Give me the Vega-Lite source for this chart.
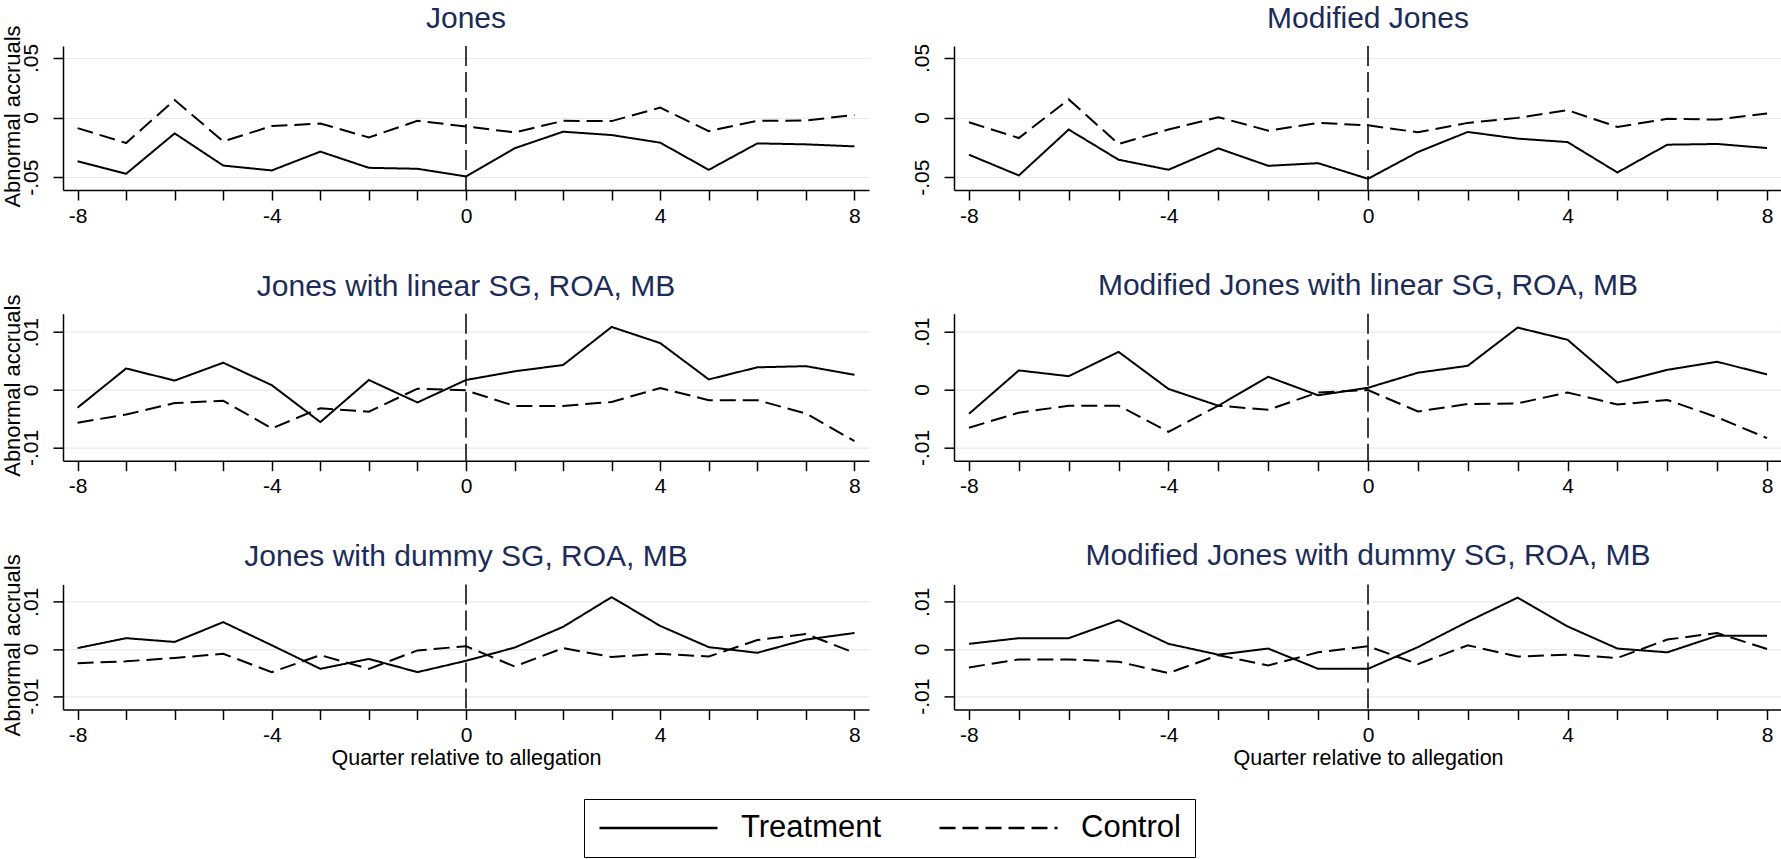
{
  "$schema": "https://vega.github.io/schema/vega-lite/v6.json",
  "padding": {"left": 1, "top": 4, "right": 0, "bottom": 0},
  "background": "white",
  "datasets": {
    "acc": [
      {"m":"J","q":-8,"Treatment":-0.0367,"Control":-0.0089},
      {"m":"J","q":-7,"Treatment":-0.0472,"Control":-0.0214},
      {"m":"J","q":-6,"Treatment":-0.0133,"Control":0.0147},
      {"m":"J","q":-5,"Treatment":-0.0403,"Control":-0.0200},
      {"m":"J","q":-4,"Treatment":-0.0444,"Control":-0.0072},
      {"m":"J","q":-3,"Treatment":-0.0286,"Control":-0.0050},
      {"m":"J","q":-2,"Treatment":-0.0422,"Control":-0.0167},
      {"m":"J","q":-1,"Treatment":-0.0430,"Control":-0.0028},
      {"m":"J","q":0,"Treatment":-0.0494,"Control":-0.0075},
      {"m":"J","q":1,"Treatment":-0.0258,"Control":-0.0125},
      {"m":"J","q":2,"Treatment":-0.0119,"Control":-0.0028},
      {"m":"J","q":3,"Treatment":-0.0147,"Control":-0.0030},
      {"m":"J","q":4,"Treatment":-0.0211,"Control":0.0083},
      {"m":"J","q":5,"Treatment":-0.0439,"Control":-0.0114},
      {"m":"J","q":6,"Treatment":-0.0217,"Control":-0.0028},
      {"m":"J","q":7,"Treatment":-0.0225,"Control":-0.0025},
      {"m":"J","q":8,"Treatment":-0.0242,"Control":0.0022},
      {"m":"MJ","q":-8,"Treatment":-0.0312,"Control":-0.0040},
      {"m":"MJ","q":-7,"Treatment":-0.0486,"Control":-0.0172},
      {"m":"MJ","q":-6,"Treatment":-0.0101,"Control":0.0152},
      {"m":"MJ","q":-5,"Treatment":-0.0354,"Control":-0.0222},
      {"m":"MJ","q":-4,"Treatment":-0.0438,"Control":-0.0101},
      {"m":"MJ","q":-3,"Treatment":-0.0259,"Control":0.0003},
      {"m":"MJ","q":-2,"Treatment":-0.0405,"Control":-0.0110},
      {"m":"MJ","q":-1,"Treatment":-0.0383,"Control":-0.0045},
      {"m":"MJ","q":0,"Treatment":-0.0514,"Control":-0.0065},
      {"m":"MJ","q":1,"Treatment":-0.0290,"Control":-0.0124},
      {"m":"MJ","q":2,"Treatment":-0.0121,"Control":-0.0045},
      {"m":"MJ","q":3,"Treatment":-0.0177,"Control":-0.0003},
      {"m":"MJ","q":4,"Treatment":-0.0206,"Control":0.0062},
      {"m":"MJ","q":5,"Treatment":-0.0461,"Control":-0.0079},
      {"m":"MJ","q":6,"Treatment":-0.0228,"Control":-0.0011},
      {"m":"MJ","q":7,"Treatment":-0.0222,"Control":-0.0017},
      {"m":"MJ","q":8,"Treatment":-0.0256,"Control":0.0034},
      {"m":"JL","q":-8,"Treatment":-0.0031,"Control":-0.0057},
      {"m":"JL","q":-7,"Treatment":0.0037,"Control":-0.0043},
      {"m":"JL","q":-6,"Treatment":0.0016,"Control":-0.0023},
      {"m":"JL","q":-5,"Treatment":0.0047,"Control":-0.0019},
      {"m":"JL","q":-4,"Treatment":0.0008,"Control":-0.0067},
      {"m":"JL","q":-3,"Treatment":-0.0056,"Control":-0.0032},
      {"m":"JL","q":-2,"Treatment":0.0017,"Control":-0.0038},
      {"m":"JL","q":-1,"Treatment":-0.0022,"Control":0.0002},
      {"m":"JL","q":0,"Treatment":0.0017,"Control":-0.0001},
      {"m":"JL","q":1,"Treatment":0.0032,"Control":-0.0028},
      {"m":"JL","q":2,"Treatment":0.0043,"Control":-0.0028},
      {"m":"JL","q":3,"Treatment":0.0109,"Control":-0.0021},
      {"m":"JL","q":4,"Treatment":0.0081,"Control":0.0003},
      {"m":"JL","q":5,"Treatment":0.0018,"Control":-0.0018},
      {"m":"JL","q":6,"Treatment":0.0039,"Control":-0.0018},
      {"m":"JL","q":7,"Treatment":0.0041,"Control":-0.0041},
      {"m":"JL","q":8,"Treatment":0.0026,"Control":-0.0089},
      {"m":"MJL","q":-8,"Treatment":-0.0042,"Control":-0.0066},
      {"m":"MJL","q":-7,"Treatment":0.0033,"Control":-0.0040},
      {"m":"MJL","q":-6,"Treatment":0.0023,"Control":-0.0028},
      {"m":"MJL","q":-5,"Treatment":0.0065,"Control":-0.0028},
      {"m":"MJL","q":-4,"Treatment":0.0001,"Control":-0.0073},
      {"m":"MJL","q":-3,"Treatment":-0.0028,"Control":-0.0028},
      {"m":"MJL","q":-2,"Treatment":0.0022,"Control":-0.0035},
      {"m":"MJL","q":-1,"Treatment":-0.0010,"Control":-0.0005},
      {"m":"MJL","q":0,"Treatment":0.0003,"Control":-0.0001},
      {"m":"MJL","q":1,"Treatment":0.0029,"Control":-0.0038},
      {"m":"MJL","q":2,"Treatment":0.0041,"Control":-0.0025},
      {"m":"MJL","q":3,"Treatment":0.0107,"Control":-0.0024},
      {"m":"MJL","q":4,"Treatment":0.0086,"Control":-0.0005},
      {"m":"MJL","q":5,"Treatment":0.0012,"Control":-0.0026},
      {"m":"MJL","q":6,"Treatment":0.0034,"Control":-0.0018},
      {"m":"MJL","q":7,"Treatment":0.0048,"Control":-0.0048},
      {"m":"MJL","q":8,"Treatment":0.0026,"Control":-0.0084},
      {"m":"JD","q":-8,"Treatment":0.0002,"Control":-0.0030},
      {"m":"JD","q":-7,"Treatment":0.0023,"Control":-0.0026},
      {"m":"JD","q":-6,"Treatment":0.0015,"Control":-0.0019},
      {"m":"JD","q":-5,"Treatment":0.0057,"Control":-0.0010},
      {"m":"JD","q":-4,"Treatment":0.0008,"Control":-0.0049},
      {"m":"JD","q":-3,"Treatment":-0.0042,"Control":-0.0013},
      {"m":"JD","q":-2,"Treatment":-0.0021,"Control":-0.0042},
      {"m":"JD","q":-1,"Treatment":-0.0049,"Control":-0.0003},
      {"m":"JD","q":0,"Treatment":-0.0025,"Control":0.0006},
      {"m":"JD","q":1,"Treatment":0.0003,"Control":-0.0037},
      {"m":"JD","q":2,"Treatment":0.0047,"Control":0.0002},
      {"m":"JD","q":3,"Treatment":0.0110,"Control":-0.0017},
      {"m":"JD","q":4,"Treatment":0.0049,"Control":-0.0010},
      {"m":"JD","q":5,"Treatment":0.0004,"Control":-0.0016},
      {"m":"JD","q":6,"Treatment":-0.0008,"Control":0.0019},
      {"m":"JD","q":7,"Treatment":0.0020,"Control":0.0032},
      {"m":"JD","q":8,"Treatment":0.0034,"Control":-0.0008},
      {"m":"MJD","q":-8,"Treatment":0.0011,"Control":-0.0039},
      {"m":"MJD","q":-7,"Treatment":0.0023,"Control":-0.0022},
      {"m":"MJD","q":-6,"Treatment":0.0023,"Control":-0.0022},
      {"m":"MJD","q":-5,"Treatment":0.0061,"Control":-0.0027},
      {"m":"MJD","q":-4,"Treatment":0.0011,"Control":-0.0051},
      {"m":"MJD","q":-3,"Treatment":-0.0012,"Control":-0.0013},
      {"m":"MJD","q":-2,"Treatment":0.0001,"Control":-0.0035},
      {"m":"MJD","q":-1,"Treatment":-0.0042,"Control":-0.0007},
      {"m":"MJD","q":0,"Treatment":-0.0042,"Control":0.0006},
      {"m":"MJD","q":1,"Treatment":0.0004,"Control":-0.0032},
      {"m":"MJD","q":2,"Treatment":0.0058,"Control":0.0008},
      {"m":"MJD","q":3,"Treatment":0.0109,"Control":-0.0016},
      {"m":"MJD","q":4,"Treatment":0.0048,"Control":-0.0012},
      {"m":"MJD","q":5,"Treatment":0.0001,"Control":-0.0019},
      {"m":"MJD","q":6,"Treatment":-0.0007,"Control":0.0020},
      {"m":"MJD","q":7,"Treatment":0.0028,"Control":0.0034},
      {"m":"MJD","q":8,"Treatment":0.0028,"Control":0.0000}
    ]
  },
  "columns": 2,
  "align": "each",
  "bounds": "flush",
  "spacing": {"row": 123.7, "column": 85},
  "concat": [
    {
      "width": 806, "height": 144,
      "title": {"text": "Jones", "offset": -9.1},
      "layer": [
        {"data": {"values": [{}]}, "mark": {"type": "rule", "strokeDash": [20, 6], "strokeWidth": 1.5, "color": "black"}, "encoding": {"x": {"datum": 0}}},
        {"data": {"name": "acc"},
         "transform": [{"filter": "datum.m == 'J'"}, {"fold": ["Treatment", "Control"], "as": ["series", "value"]}],
         "mark": {"type": "line", "color": "black", "strokeWidth": 2},
         "encoding": {
           "x": {"field": "q", "type": "quantitative", "scale": {"domain": [-8.3, 8.3], "nice": false, "zero": false},
                 "axis": {"title": null, "values": [-8,-7,-6,-5,-4,-3,-2,-1,0,1,2,3,4,5,6,7,8], "labelExpr": "datum.value % 4 == 0 ? (datum.value < 0 ? '-' + abs(datum.value) : '' + datum.value) : ''"}},
           "y": {"field": "value", "type": "quantitative", "scale": {"domain": [-0.0608, 0.06], "nice": false, "zero": false},
                 "axis": {"title": "Abnormal accruals", "titleX": -43.7, "titleY": 70, "titleAngle": -90, "titleAlign": "center", "titleBaseline": "alphabetic",
                          "labelAngle": -90, "labelAlign": "center", "labelBaseline": "top", "labelPadding": 32.6,
                          "values": [-0.05, 0, 0.05], "grid": true, "labelExpr": "datum.value == 0 ? '0' : (datum.value < 0 ? '-' : '') + replace(format(abs(datum.value), '.2f'), '0.', '.')"}},
           "strokeDash": {"field": "series", "type": "nominal", "scale": {"domain": ["Treatment", "Control"], "range": [[1, 0], [16, 7]]},
                 "legend": {"orient": "none", "legendX": 521, "legendY": 753, "direction": "horizontal", "title": null, "symbolType": "stroke", "symbolSize": 13924, "symbolStrokeWidth": 2.5, "symbolStrokeColor": "black", "clipHeight": 30, "labelFontSize": 31, "labelColor": "black", "labelOffset": 22, "columnPadding": 56, "padding": 14, "strokeColor": "black", "fillColor": "white", "labelLimit": 400}}
         }}
      ]
    },
    {
      "width": 828, "height": 144,
      "title": {"text": "Modified Jones", "offset": 9.3},
      "layer": [
        {"data": {"values": [{}]}, "mark": {"type": "rule", "strokeDash": [20, 6], "strokeWidth": 1.5, "color": "black"}, "encoding": {"x": {"datum": 0}}},
        {"data": {"name": "acc"},
         "transform": [{"filter": "datum.m == 'MJ'"}, {"fold": ["Treatment", "Control"], "as": ["series", "value"]}],
         "mark": {"type": "line", "color": "black", "strokeWidth": 2},
         "encoding": {
           "x": {"field": "q", "type": "quantitative", "scale": {"domain": [-8.3, 8.3], "nice": false, "zero": false},
                 "axis": {"title": null, "values": [-8,-7,-6,-5,-4,-3,-2,-1,0,1,2,3,4,5,6,7,8], "labelExpr": "datum.value % 4 == 0 ? (datum.value < 0 ? '-' + abs(datum.value) : '' + datum.value) : ''"}},
           "y": {"field": "value", "type": "quantitative", "scale": {"domain": [-0.0608, 0.06], "nice": false, "zero": false},
                 "axis": {"title": null, "labelAngle": -90, "labelAlign": "center", "labelBaseline": "top", "labelPadding": 32.6,
                          "values": [-0.05, 0, 0.05], "grid": true, "labelExpr": "datum.value == 0 ? '0' : (datum.value < 0 ? '-' : '') + replace(format(abs(datum.value), '.2f'), '0.', '.')"}},
           "strokeDash": {"field": "series", "type": "nominal", "scale": {"domain": ["Treatment", "Control"], "range": [[1, 0], [16, 7]]},
                 "legend": {"orient": "none", "legendX": 521, "legendY": 753, "direction": "horizontal", "title": null, "symbolType": "stroke", "symbolSize": 13924, "symbolStrokeWidth": 2.5, "symbolStrokeColor": "black", "clipHeight": 30, "labelFontSize": 31, "labelColor": "black", "labelOffset": 22, "columnPadding": 56, "padding": 14, "strokeColor": "black", "fillColor": "white", "labelLimit": 400}}
         }}
      ]
    },
    {
      "width": 806, "height": 147,
      "title": {"text": "Jones with linear SG, ROA, MB", "offset": -7.6},
      "layer": [
        {"data": {"values": [{}]}, "mark": {"type": "rule", "strokeDash": [20, 6], "strokeWidth": 1.5, "color": "black"}, "encoding": {"x": {"datum": 0}}},
        {"data": {"name": "acc"},
         "transform": [{"filter": "datum.m == 'JL'"}, {"fold": ["Treatment", "Control"], "as": ["series", "value"]}],
         "mark": {"type": "line", "color": "black", "strokeWidth": 2},
         "encoding": {
           "x": {"field": "q", "type": "quantitative", "scale": {"domain": [-8.3, 8.3], "nice": false, "zero": false},
                 "axis": {"title": null, "values": [-8,-7,-6,-5,-4,-3,-2,-1,0,1,2,3,4,5,6,7,8], "labelExpr": "datum.value % 4 == 0 ? (datum.value < 0 ? '-' + abs(datum.value) : '' + datum.value) : ''"}},
           "y": {"field": "value", "type": "quantitative", "scale": {"domain": [-0.0123, 0.0132], "nice": false, "zero": false},
                 "axis": {"title": "Abnormal accruals", "titleX": -43.7, "titleY": 71.5, "titleAngle": -90, "titleAlign": "center", "titleBaseline": "alphabetic",
                          "labelAngle": -90, "labelAlign": "center", "labelBaseline": "top", "labelPadding": 32.6,
                          "values": [-0.01, 0, 0.01], "grid": true, "labelExpr": "datum.value == 0 ? '0' : (datum.value < 0 ? '-' : '') + replace(format(abs(datum.value), '.2f'), '0.', '.')"}},
           "strokeDash": {"field": "series", "type": "nominal", "scale": {"domain": ["Treatment", "Control"], "range": [[1, 0], [16, 7]]},
                 "legend": {"orient": "none", "legendX": 521, "legendY": 753, "direction": "horizontal", "title": null, "symbolType": "stroke", "symbolSize": 13924, "symbolStrokeWidth": 2.5, "symbolStrokeColor": "black", "clipHeight": 30, "labelFontSize": 31, "labelColor": "black", "labelOffset": 22, "columnPadding": 56, "padding": 14, "strokeColor": "black", "fillColor": "white", "labelLimit": 400}}
         }}
      ]
    },
    {
      "width": 828, "height": 147,
      "title": {"text": "Modified Jones with linear SG, ROA, MB", "offset": 12.3},
      "layer": [
        {"data": {"values": [{}]}, "mark": {"type": "rule", "strokeDash": [20, 6], "strokeWidth": 1.5, "color": "black"}, "encoding": {"x": {"datum": 0}}},
        {"data": {"name": "acc"},
         "transform": [{"filter": "datum.m == 'MJL'"}, {"fold": ["Treatment", "Control"], "as": ["series", "value"]}],
         "mark": {"type": "line", "color": "black", "strokeWidth": 2},
         "encoding": {
           "x": {"field": "q", "type": "quantitative", "scale": {"domain": [-8.3, 8.3], "nice": false, "zero": false},
                 "axis": {"title": null, "values": [-8,-7,-6,-5,-4,-3,-2,-1,0,1,2,3,4,5,6,7,8], "labelExpr": "datum.value % 4 == 0 ? (datum.value < 0 ? '-' + abs(datum.value) : '' + datum.value) : ''"}},
           "y": {"field": "value", "type": "quantitative", "scale": {"domain": [-0.0123, 0.0131], "nice": false, "zero": false},
                 "axis": {"title": null, "labelAngle": -90, "labelAlign": "center", "labelBaseline": "top", "labelPadding": 32.6,
                          "values": [-0.01, 0, 0.01], "grid": true, "labelExpr": "datum.value == 0 ? '0' : (datum.value < 0 ? '-' : '') + replace(format(abs(datum.value), '.2f'), '0.', '.')"}},
           "strokeDash": {"field": "series", "type": "nominal", "scale": {"domain": ["Treatment", "Control"], "range": [[1, 0], [16, 7]]},
                 "legend": {"orient": "none", "legendX": 521, "legendY": 753, "direction": "horizontal", "title": null, "symbolType": "stroke", "symbolSize": 13924, "symbolStrokeWidth": 2.5, "symbolStrokeColor": "black", "clipHeight": 30, "labelFontSize": 31, "labelColor": "black", "labelOffset": 22, "columnPadding": 56, "padding": 14, "strokeColor": "black", "fillColor": "white", "labelLimit": 400}}
         }}
      ]
    },
    {
      "width": 806, "height": 125,
      "title": {"text": "Jones with dummy SG, ROA, MB", "offset": -18.6},
      "layer": [
        {"data": {"values": [{}]}, "mark": {"type": "rule", "strokeDash": [20, 6], "strokeWidth": 1.5, "color": "black"}, "encoding": {"x": {"datum": 0}}},
        {"data": {"name": "acc"},
         "transform": [{"filter": "datum.m == 'JD'"}, {"fold": ["Treatment", "Control"], "as": ["series", "value"]}],
         "mark": {"type": "line", "color": "black", "strokeWidth": 2},
         "encoding": {
           "x": {"field": "q", "type": "quantitative", "scale": {"domain": [-8.3, 8.3], "nice": false, "zero": false},
                 "axis": {"title": "Quarter relative to allegation", "values": [-8,-7,-6,-5,-4,-3,-2,-1,0,1,2,3,4,5,6,7,8], "labelExpr": "datum.value % 4 == 0 ? (datum.value < 0 ? '-' + abs(datum.value) : '' + datum.value) : ''"}},
           "y": {"field": "value", "type": "quantitative", "scale": {"domain": [-0.0128, 0.0137], "nice": false, "zero": false},
                 "axis": {"title": "Abnormal accruals", "titleX": -43.7, "titleY": 60.5, "titleAngle": -90, "titleAlign": "center", "titleBaseline": "alphabetic",
                          "labelAngle": -90, "labelAlign": "center", "labelBaseline": "top", "labelPadding": 32.6,
                          "values": [-0.01, 0, 0.01], "grid": true, "labelExpr": "datum.value == 0 ? '0' : (datum.value < 0 ? '-' : '') + replace(format(abs(datum.value), '.2f'), '0.', '.')"}},
           "strokeDash": {"field": "series", "type": "nominal", "scale": {"domain": ["Treatment", "Control"], "range": [[1, 0], [16, 7]]},
                 "legend": {"orient": "none", "legendX": 521, "legendY": 753, "direction": "horizontal", "title": null, "symbolType": "stroke", "symbolSize": 13924, "symbolStrokeWidth": 2.5, "symbolStrokeColor": "black", "clipHeight": 30, "labelFontSize": 31, "labelColor": "black", "labelOffset": 22, "columnPadding": 56, "padding": 14, "strokeColor": "black", "fillColor": "white", "labelLimit": 400}}
         }}
      ]
    },
    {
      "width": 828, "height": 125,
      "title": {"text": "Modified Jones with dummy SG, ROA, MB", "offset": 12.3},
      "layer": [
        {"data": {"values": [{}]}, "mark": {"type": "rule", "strokeDash": [20, 6], "strokeWidth": 1.5, "color": "black"}, "encoding": {"x": {"datum": 0}}},
        {"data": {"name": "acc"},
         "transform": [{"filter": "datum.m == 'MJD'"}, {"fold": ["Treatment", "Control"], "as": ["series", "value"]}],
         "mark": {"type": "line", "color": "black", "strokeWidth": 2},
         "encoding": {
           "x": {"field": "q", "type": "quantitative", "scale": {"domain": [-8.3, 8.3], "nice": false, "zero": false},
                 "axis": {"title": "Quarter relative to allegation", "values": [-8,-7,-6,-5,-4,-3,-2,-1,0,1,2,3,4,5,6,7,8], "labelExpr": "datum.value % 4 == 0 ? (datum.value < 0 ? '-' + abs(datum.value) : '' + datum.value) : ''"}},
           "y": {"field": "value", "type": "quantitative", "scale": {"domain": [-0.0128, 0.0137], "nice": false, "zero": false},
                 "axis": {"title": null, "labelAngle": -90, "labelAlign": "center", "labelBaseline": "top", "labelPadding": 32.6,
                          "values": [-0.01, 0, 0.01], "grid": true, "labelExpr": "datum.value == 0 ? '0' : (datum.value < 0 ? '-' : '') + replace(format(abs(datum.value), '.2f'), '0.', '.')"}},
           "strokeDash": {"field": "series", "type": "nominal", "scale": {"domain": ["Treatment", "Control"], "range": [[1, 0], [16, 7]]},
                 "legend": {"orient": "none", "legendX": 521, "legendY": 753, "direction": "horizontal", "title": null, "symbolType": "stroke", "symbolSize": 13924, "symbolStrokeWidth": 2.5, "symbolStrokeColor": "black", "clipHeight": 30, "labelFontSize": 31, "labelColor": "black", "labelOffset": 22, "columnPadding": 56, "padding": 14, "strokeColor": "black", "fillColor": "white", "labelLimit": 400}}
         }}
      ]
    }
  ],
  "config": {
    "font": "Liberation Sans",
    "view": {"stroke": null},
    "title": {"fontSize": 30, "fontWeight": "normal", "color": "#1c2b58", "baseline": "alphabetic", "anchor": "middle"},
    "axis": {"domainColor": "black", "domainWidth": 1.5, "tickColor": "black", "tickWidth": 1.5, "tickSize": 10, "labelFontSize": 21, "labelColor": "black", "titleFontSize": 21.5, "titleFontWeight": "normal", "titleColor": "black", "gridColor": "#e3ebee", "gridWidth": 1.2, "labelFlush": false, "labelOverlap": false},
    "axisX": {"grid": false, "labelPadding": 5, "titlePadding": 2},
    "axisY": {"titleFontSize": 22}
  }
}
